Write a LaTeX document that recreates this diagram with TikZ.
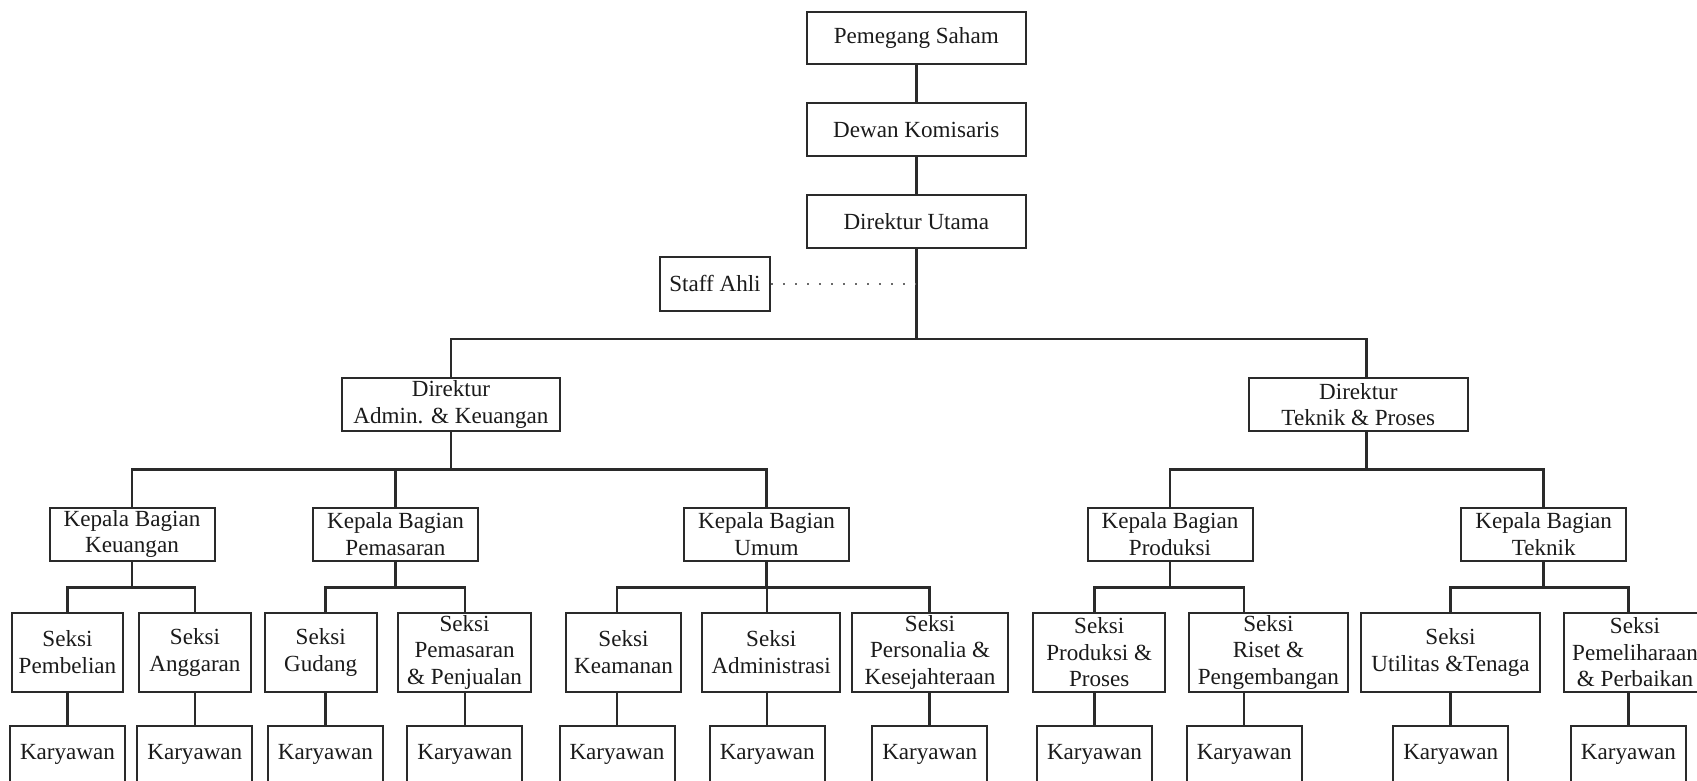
\documentclass[tikz,border=0pt]{standalone}
\usepackage{fontspec}
\setmainfont{Liberation Serif}
\definecolor{linec}{HTML}{2A2A2A}
\definecolor{textc}{HTML}{1A1A1A}
\begin{document}
\begin{tikzpicture}[x=0.5pt,y=-0.5pt,
  box/.style={draw=linec, line width=1pt, inner sep=0pt, align=center, text=textc,
    font=\fontsize{11.55}{13.35}\selectfont},
  conn/.style={draw=linec, line width=1.25pt},
  dotline/.style={draw=linec!70, line width=0.9pt, dash pattern=on 0.9pt off 5.1pt},
  topbox/.style={box, minimum width=109.65pt, minimum height=26.25pt},
  dirbox/.style={box, minimum width=109.3pt, minimum height=26.2pt},
  kbox/.style={box, minimum width=82.5pt, minimum height=26.5pt},
  sbox/.style={box, minimum height=39.65pt, minimum width=#1},
  kar/.style={box, minimum width=57.5pt, minimum height=29pt}
]
\useasboundingbox (0,0) rectangle (1697,781);

% top chain
\node[topbox] (ps) at (916.3,38) {Pemegang Saham};
\node[topbox] (dk) at (916.3,129.5) {Dewan Komisaris};
\node[topbox] (du) at (916.3,221.4) {Direktur Utama};
\node[box, minimum width=55pt, minimum height=27pt] (sa) at (715,283.7) {Staff Ahli};
\coordinate (mb) at (916.3,338.8);

% directors
\node[dirbox] (da) at (451,404.5) {Direktur\\Admin. \& Keuangan};
\node[dirbox] (dt) at (1358.3,404.5) {Direktur\\Teknik \& Proses};
\coordinate (ab) at (0,469.3);

% heads
\node[kbox] (kk)  at (132,534)    {Kepala Bagian\\Keuangan};
\node[kbox] (kp)  at (395.5,534)  {Kepala Bagian\\Pemasaran};
\node[kbox] (ku)  at (766.5,534)  {Kepala Bagian\\Umum};
\node[kbox] (kpr) at (1170,534)   {Kepala Bagian\\Produksi};
\node[kbox] (kt)  at (1543.7,534) {Kepala Bagian\\Teknik};
\coordinate (sb) at (0,587.5);

% sections
\node[sbox=55.2pt]  (s1)  at (67.5,652.3)   {Seksi\\Pembelian};
\node[sbox=55.7pt]  (s2)  at (195,652.3)    {Seksi\\Anggaran};
\node[sbox=56.1pt]  (s3)  at (320.7,652.3)  {Seksi\\Gudang};
\node[sbox=66.5pt]  (s4)  at (464.6,652.3)  {Seksi\\Pemasaran\\\& Penjualan};
\node[sbox=57.8pt]  (s5)  at (623.5,652.3)  {Seksi\\Keamanan};
\node[sbox=68.85pt] (s6)  at (771.2,652.3)  {Seksi\\Administrasi};
\node[sbox=78.3pt]  (s7)  at (930,652.3)    {Seksi\\Personalia \&\\Kesejahteraan};
\node[sbox=65.85pt] (s8)  at (1099.2,652.3) {Seksi\\Produksi \&\\Proses};
\node[sbox=79.35pt] (s9)  at (1268.4,652.3) {Seksi\\Riset \&\\Pengembangan};
\node[sbox=89.5pt]  (s10) at (1450.5,652.3) {Seksi\\Utilitas \&Tenaga};
\node[sbox=70.7pt]  (s11) at (1635,652.3)   {Seksi\\Pemeliharaan\\\& Perbaikan};

% employees
\node[kar] (k1)  at (67.5,754.5)   {Karyawan};
\node[kar] (k2)  at (194.8,754.5)  {Karyawan};
\node[kar] (k3)  at (325.4,754.5)  {Karyawan};
\node[kar] (k4)  at (464.8,754.5)  {Karyawan};
\node[kar] (k5)  at (617,754.5)    {Karyawan};
\node[kar] (k6)  at (767.2,754.5)  {Karyawan};
\node[kar] (k7)  at (929.7,754.5)  {Karyawan};
\node[kar] (k8)  at (1094.5,754.5) {Karyawan};
\node[kar] (k9)  at (1244.2,754.5) {Karyawan};
\node[kar] (k10) at (1450.7,754.5) {Karyawan};
\node[kar] (k11) at (1628.4,754.5) {Karyawan};

% connectors: top
\draw[conn] (ps) -- (dk);
\draw[conn] (dk) -- (du);
\draw[conn] (du.south) -- (mb);
\draw[dotline] (sa.east) -- (sa.east -| du.south);
\draw[conn] (da.north) |- (mb) -| ([xshift=4pt]dt.north);

% directors to heads
\draw[conn] (da.south) -- (da.south |- ab) -| (kk.north);
\draw[conn] (da.south |- ab) -| (kp.north);
\draw[conn] (da.south |- ab) -| (ku.north);
\draw[conn] ([xshift=4pt]dt.south) -- ([xshift=4pt]dt.south |- ab) -| (kpr.north);
\draw[conn] ([xshift=4pt]dt.south |- ab) -| (kt.north);

% heads to sections
\draw[conn] (kk.south) -- (kk.south |- sb) -| (k1.north |- s1.north);
\draw[conn] (kk.south |- sb) -| (k2.north |- s2.north);
\draw[conn] (kp.south) -- (kp.south |- sb) -| (k3.north |- s3.north);
\draw[conn] (kp.south |- sb) -| (k4.north |- s4.north);
\draw[conn] (ku.south) -- (ku.south |- sb) -| (k5.north |- s5.north);
\draw[conn] (ku.south |- sb) -| (k6.north |- s6.north);
\draw[conn] (ku.south |- sb) -| (k7.north |- s7.north);
\draw[conn] (kpr.south) -- (kpr.south |- sb) -| (k8.north |- s8.north);
\draw[conn] (kpr.south |- sb) -| (k9.north |- s9.north);
\draw[conn] (kt.south) -- (kt.south |- sb) -| (k10.north |- s10.north);
\draw[conn] (kt.south |- sb) -| (k11.north |- s11.north);

% sections to employees
\draw[conn] (s1.south -| k1.north) -- (k1.north);
\draw[conn] (s2.south -| k2.north) -- (k2.north);
\draw[conn] (s3.south -| k3.north) -- (k3.north);
\draw[conn] (s4.south -| k4.north) -- (k4.north);
\draw[conn] (s5.south -| k5.north) -- (k5.north);
\draw[conn] (s6.south -| k6.north) -- (k6.north);
\draw[conn] (s7.south -| k7.north) -- (k7.north);
\draw[conn] (s8.south -| k8.north) -- (k8.north);
\draw[conn] (s9.south -| k9.north) -- (k9.north);
\draw[conn] (s10.south -| k10.north) -- (k10.north);
\draw[conn] (s11.south -| k11.north) -- (k11.north);
\end{tikzpicture}
\end{document}
